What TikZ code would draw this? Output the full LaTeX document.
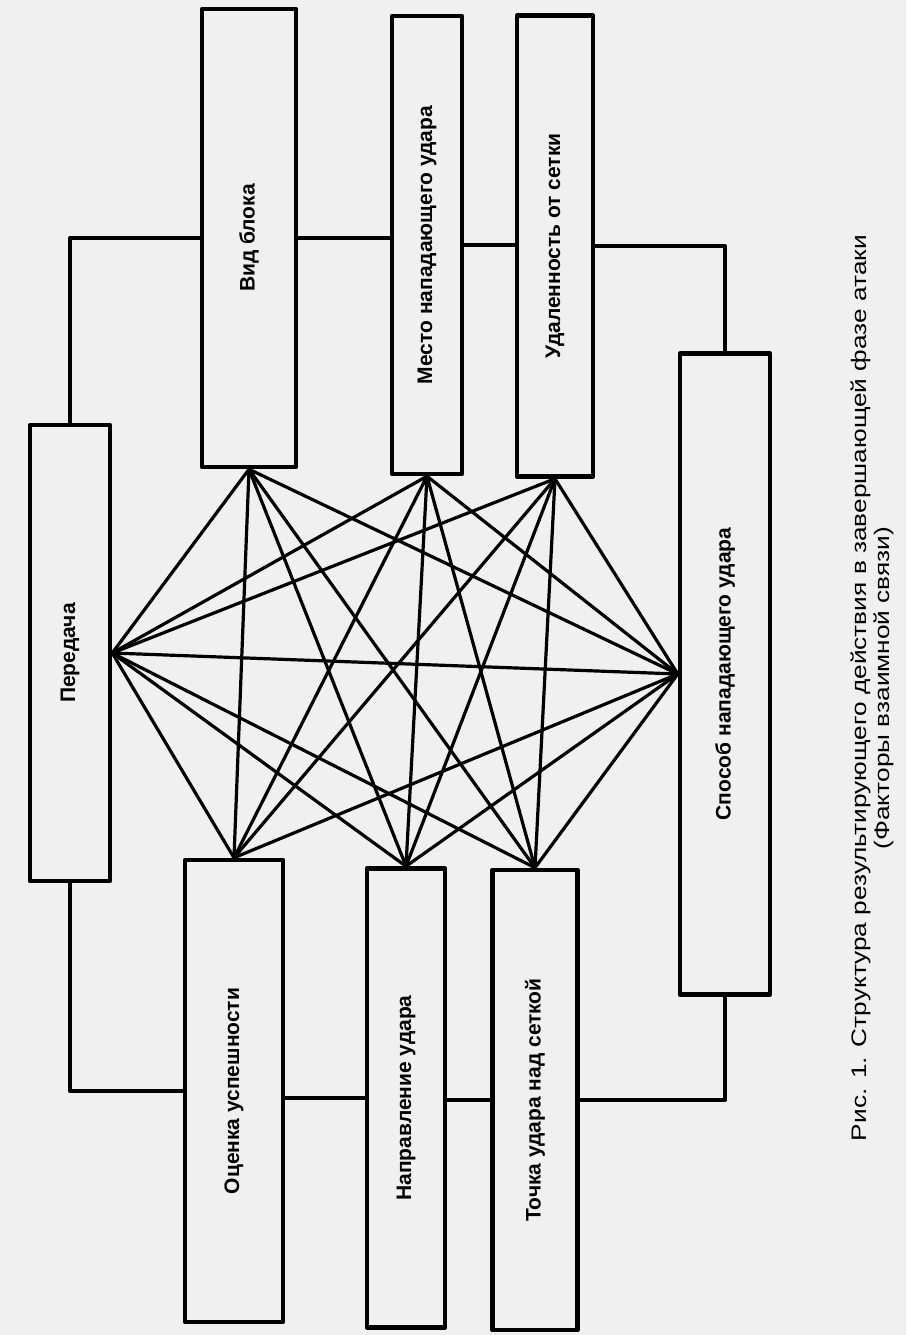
\documentclass[tikz,border=0pt]{standalone}
\usepackage{fontspec}
\setmainfont{Liberation Sans}
\usetikzlibrary{positioning}

\tikzset{
  factor/.style={draw,line width=4.5pt,inner sep=0pt,
    font=\bfseries\fontsize{21}{24}\selectfont},
  link/.style={line width=3.2pt,line cap=round},
  frame/.style={line width=4pt},
}

\begin{document}
\begin{tikzpicture}[x=1pt,y=-1pt,line join=round]
  \fill[gray!12] (0,0) rectangle (906,1335);
  \useasboundingbox (0,0) rectangle (906,1335);
  % top row
  \node[factor,minimum width=94,minimum height=458] (vid) at (249,238) {\rotatebox{90}{Вид блока}};
  \node[factor,minimum width=70,minimum height=458] (mesto) at (427,245) {\rotatebox{90}{Место нападающего удара}};
  \node[factor,minimum width=76,minimum height=461] (udal) at (555,246) {\rotatebox{90}{Удаленность от сетки}};
  % sides
  \node[factor,minimum width=80,minimum height=456] (pered) at (70,653) {\rotatebox{90}{Передача}};
  \node[factor,minimum width=90,minimum height=641] (sposob) at (725,674) {\rotatebox{90}{Способ нападающего удара}};
  % bottom row
  \node[factor,minimum width=98,minimum height=462] (ocenka) at (234,1091) {\rotatebox{90}{Оценка успешности}};
  \node[factor,minimum width=78,minimum height=459] (napr) at (406,1098) {\rotatebox{90}{Направление удара}};
  \node[factor,minimum width=85,minimum height=460] (tochka) at (535,1100) {\rotatebox{90}{Точка удара над сеткой}};
  % outer chain
  \draw[frame] (pered.north) |- (vid.west);
  \draw[frame] (vid.east) -- (vid.east -| mesto.west);
  \draw[frame] (mesto.east) -- (mesto.east -| udal.west);
  \draw[frame] (udal.east) -| (sposob.north);
  \draw[frame] (pered.south) |- (ocenka.west);
  \draw[frame] (napr.west -| ocenka.east) -- (napr.west);
  \draw[frame] (tochka.west -| napr.east) -- (tochka.west);
  \draw[frame] (tochka.east) -| (sposob.south);
  % links
  \foreach \t in {vid,mesto,udal}{
    \draw[link] (pered.east) -- (\t.south);
    \draw[link] (sposob.west) -- (\t.south);
    \foreach \b in {ocenka,napr,tochka}
      \draw[link] (\t.south) -- (\b.north);
  }
  \foreach \b in {ocenka,napr,tochka}{
    \draw[link] (pered.east) -- (\b.north);
    \draw[link] (sposob.west) -- (\b.north);
  }
  \draw[link] (pered.east) -- (sposob.west);
  % caption
  \node[font=\fontsize{21}{23}\selectfont] (cap) at (873,688) {\rotatebox{90}{\scalebox{1.25}[1]{\begin{tabular}{@{}c@{}}Рис. 1. Структура результирующего действия в завершающей фазе атаки\\(Факторы взаимной связи)\end{tabular}}}};
\end{tikzpicture}
\end{document}
